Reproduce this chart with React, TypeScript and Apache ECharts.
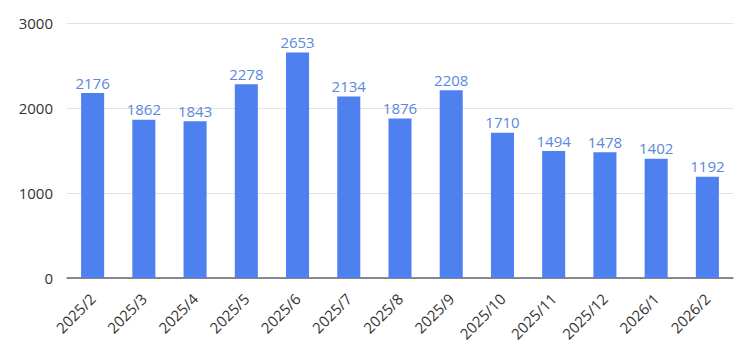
import React, { useEffect, useRef } from "react";
import * as echarts from "echarts";

const categories = ["2025/2", "2025/3", "2025/4", "2025/5", "2025/6", "2025/7", "2025/8", "2025/9", "2025/10", "2025/11", "2025/12", "2026/1", "2026/2"];
const values = [2176, 1862, 1843, 2278, 2653, 2134, 1876, 2208, 1710, 1494, 1478, 1402, 1192];

const FONT = "'Open Sans', 'Noto Sans', sans-serif";

export default function App() {
  const ref = useRef<HTMLDivElement>(null);
  useEffect(() => {
    if (!ref.current) return;
    const chart = echarts.init(ref.current, null, { renderer: "svg" });
    chart.setOption({
      animation: false,
      grid: { left: 67, right: 17, top: 23, bottom: 79 },
      xAxis: {
        type: "category",
        data: categories,
        axisTick: { show: false },
        axisLine: { lineStyle: { color: "#666", width: 1.5 } },
        axisLabel: { rotate: 45, color: "#333", fontSize: 15, fontFamily: FONT, margin: 18 },
      },
      yAxis: {
        type: "value",
        min: 0,
        max: 3000,
        interval: 1000,
        axisLine: { show: false },
        axisTick: { show: false },
        splitLine: { lineStyle: { color: "#e3e3e3" } },
        axisLabel: { color: "#333", fontSize: 15, fontFamily: FONT, margin: 14, formatter: (v: number) => String(v) },
      },
      series: [
        {
          type: "bar",
          data: values,
          barWidth: "45%",
          itemStyle: { color: "#4f80f0" },
          label: { show: true, position: "top", color: "#5b87dc", fontSize: 15, fontFamily: FONT, distance: 3 },
        },
      ],
    });
    return () => chart.dispose();
  }, []);
  return <div ref={ref} style={{ position: "absolute", left: 0, top: 0, width: 750, height: 357 }} />;
}
